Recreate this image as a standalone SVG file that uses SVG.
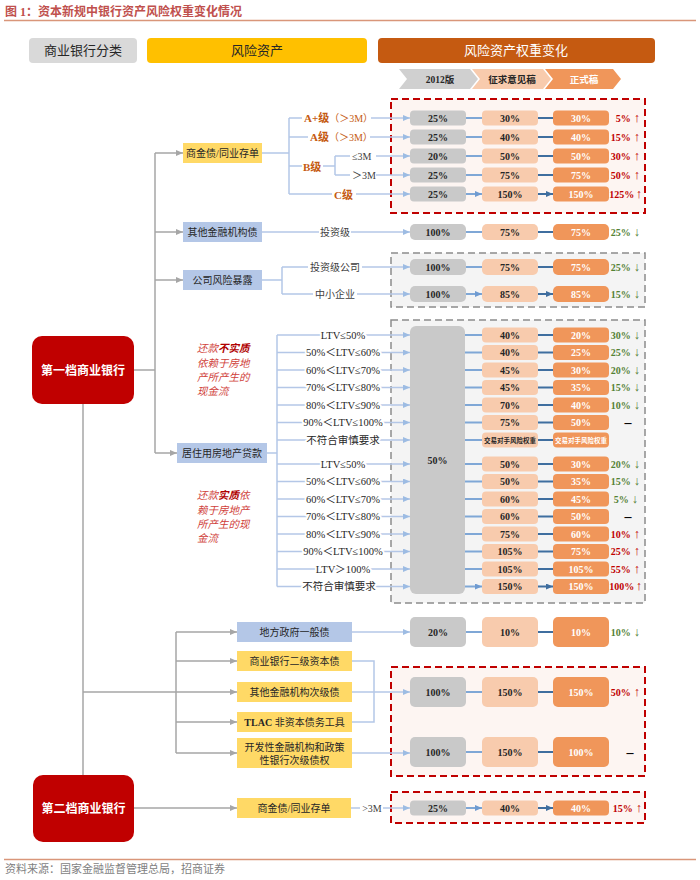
<svg xmlns="http://www.w3.org/2000/svg" width="700" height="880" viewBox="0 0 700 880">
<defs>
<style>
text{font-family:"Liberation Serif","Noto Sans CJK SC",serif}
.g{fill:#C9C9C9}
.p{fill:#F8CBAD}
.o{fill:#F0965A}
.v{font-size:10px;font-weight:bold;text-anchor:middle;fill:#262626}
.vw{font-size:10px;font-weight:bold;text-anchor:middle;fill:#fff}
.vs{font-size:6.5px;font-weight:bold;text-anchor:middle;fill:#262626}
.vsw{font-size:6.5px;font-weight:bold;text-anchor:middle;fill:#fff}
.up{font-size:10px;font-weight:bold;fill:#C00000;text-anchor:end}
.dn{font-size:10px;font-weight:bold;fill:#548235;text-anchor:end}
.ar{font-size:12.5px;font-weight:normal}
.ds{font-size:14px;font-weight:bold;fill:#000;text-anchor:middle}
.yb{fill:#FFD966}
.bb{fill:#B4C7E7}
.nl{font-size:10px;fill:#262626;text-anchor:middle}
.ol{fill:#C55A11;font-weight:bold;font-size:11px}
.gl{font-size:10px;fill:#404040}
.lt{font-size:10.5px;fill:#262626;text-anchor:middle;paint-order:stroke;stroke:#fff;stroke-width:4px;stroke-linejoin:round}
.rt{font-size:10.5px;fill:#D0413A;font-style:italic}
.rtb{font-weight:bold;fill:#B00000}
.lg{stroke:#A6A6A6;stroke-width:1.5;fill:none}
.lb{stroke:#B4C7E7;stroke-width:1.5;fill:none}
.a1{stroke:#B4C7E7;stroke-width:1.5;fill:none;marker-end:url(#mLB)}
.a2{stroke:#7FA7D6;stroke-width:1.8;fill:none;marker-end:url(#mMB)}
.a3{stroke:#3F6E9F;stroke-width:1.8;fill:none;marker-end:url(#mDB)}
.ag{stroke:#A6A6A6;stroke-width:1.5;fill:none;marker-end:url(#mG)}
.rd{fill:#FDF5F2;stroke:#C00000;stroke-width:2;stroke-dasharray:7 4}
.gd{fill:#F4F4F4;stroke:#8C8C8C;stroke-width:1.5;stroke-dasharray:7 4}
.hd{font-size:13px;text-anchor:middle}
.ch{font-size:9.5px;font-weight:bold;text-anchor:middle}
</style>
<marker id="mG" markerWidth="7" markerHeight="6" refX="7" refY="3" orient="auto" markerUnits="userSpaceOnUse"><path d="M0,0 L7,3 L0,6z" fill="#A6A6A6"/></marker>
<marker id="mLB" markerWidth="7" markerHeight="6" refX="7" refY="3" orient="auto" markerUnits="userSpaceOnUse"><path d="M0,0 L7,3 L0,6z" fill="#9DBCE3"/></marker>
<marker id="mMB" markerWidth="7" markerHeight="6" refX="7" refY="3" orient="auto" markerUnits="userSpaceOnUse"><path d="M0,0 L7,3 L0,6z" fill="#6F9BD1"/></marker>
<marker id="mDB" markerWidth="7" markerHeight="6" refX="7" refY="3" orient="auto" markerUnits="userSpaceOnUse"><path d="M0,0 L7,3 L0,6z" fill="#3F6E9F"/></marker>
</defs>
<rect width="700" height="880" fill="#fff"/>

<!-- Title -->
<g id="title">
<text x="5" y="16" font-size="12" font-weight="bold" fill="#C0504D">图 1：资本新规中银行资产风险权重变化情况</text>
<line x1="4" y1="20.5" x2="696" y2="20.5" stroke="#D9967A" stroke-width="1.5"/>
</g>

<!-- Header -->
<g id="hdr-class"><rect x="29" y="38" width="108" height="25" rx="4" fill="#D9D9D9"/><text class="hd" x="83" y="55" fill="#262626">商业银行分类</text></g>
<g id="hdr-asset"><rect x="147" y="38" width="220" height="25" rx="4" fill="#FFC000"/><text class="hd" x="257" y="55" fill="#262626">风险资产</text></g>
<g id="hdr-change"><rect x="378" y="38" width="277" height="25" rx="4" fill="#C55A11"/><text class="hd" x="516" y="55" fill="#fff">风险资产权重变化</text></g>
<g id="chev-2012"><polygon points="399,69 470,69 478,79 470,89 399,89 407,79" fill="#D0D0D0"/><text class="ch" x="440" y="82.5" fill="#262626">2012版</text></g>
<g id="chev-draft"><polygon points="472,69 543,69 551,79 543,89 472,89 480,79" fill="#F8CBAD"/><text class="ch" x="512" y="82.5" fill="#262626">征求意见稿</text></g>
<g id="chev-final"><polygon points="545,69 613,69 621,79 613,89 545,89 553,79" fill="#F0965A"/><text class="ch" x="584" y="82.5" fill="#fff">正式稿</text></g>

<!-- Dashed frames -->
<g id="frames">
<rect class="rd" x="391" y="99" width="254" height="114"/>
<rect class="gd" x="391" y="253" width="254" height="54"/>
<rect class="gd" x="391" y="320" width="254" height="283"/>
<rect class="rd" x="391" y="667" width="254" height="109"/>
<rect class="rd" x="391" y="792" width="254" height="31"/>
</g>

<!-- Connectors -->
<g id="connectors">
<path class="lg" d="M134,370 H155 M155,153 V453"/>
<path class="ag" d="M155,153 H183"/>
<path class="ag" d="M155,232 H183"/>
<path class="ag" d="M155,280 H183"/>
<path class="ag" d="M155,453 H177"/>
<path class="lg" d="M83,404 V775 M83,692 H176 M176,632 V753"/>
<path class="ag" d="M176,632 H237"/>
<path class="ag" d="M176,661 H237"/>
<path class="ag" d="M176,692 H237"/>
<path class="ag" d="M176,722 H237"/>
<path class="ag" d="M176,753 H237"/>
<path class="ag" d="M134,808 H237"/>
<path class="lb" d="M262,153 H289 M289,118 V194 M289,118 H302 M289,137 H308 M289,166 H302 M289,194 H332 M323,166 H335 M335,156 V175 M335,156 H350 M335,175 H350"/>
<path class="a1" d="M371,118 H410"/>
<path class="a1" d="M370,137 H410"/>
<path class="a1" d="M376,156 H410"/>
<path class="a1" d="M376,175 H410"/>
<path class="a1" d="M356,194 H410"/>
<path class="lb" d="M262,232 H319"/>
<path class="a1" d="M351,232 H410"/>
<path class="lb" d="M262,280 H282 M282,267 V294 M282,267 H308 M282,294 H313"/>
<path class="a1" d="M362,267 H410"/>
<path class="a1" d="M357,294 H410"/>
<path class="lb" d="M267,453 H277 M277,335 V586.5"/>
<path class="a1" d="M277,335 H410"/>
<path class="a1" d="M277,352.5 H410"/>
<path class="a1" d="M277,370 H410"/>
<path class="a1" d="M277,387.5 H410"/>
<path class="a1" d="M277,405 H410"/>
<path class="a1" d="M277,422.5 H410"/>
<path class="a1" d="M277,440 H410"/>
<path class="a1" d="M277,464 H410"/>
<path class="a1" d="M277,481.5 H410"/>
<path class="a1" d="M277,499 H410"/>
<path class="a1" d="M277,516.5 H410"/>
<path class="a1" d="M277,534 H410"/>
<path class="a1" d="M277,551.5 H410"/>
<path class="a1" d="M277,569 H410"/>
<path class="a1" d="M277,586.5 H410"/>
<path class="lb" d="M352,661 H374 V722 H352"/>
<path class="a1" d="M352,632 H410"/>
<path class="a1" d="M352,692 H410"/>
<path class="a1" d="M352,753 H410"/>
<path class="lb" d="M351,808 H360"/>
<path class="a1" d="M383,808 H410"/>
<path class="a2" d="M466,118 H482 M466,137 H482 M466,156 H482 M466,175 H482 M466,194 H482"/>
<path class="a3" d="M538,118 H553 M538,137 H553 M538,156 H553 M538,175 H553 M538,194 H553"/>
<path class="a2" d="M466,232 H482 M466,267 H482 M466,294 H482"/>
<path class="a3" d="M538,232 H553 M538,267 H553 M538,294 H553"/>
<path class="a2" d="M465,335 H482 M465,352.5 H482 M465,370 H482 M465,387.5 H482 M465,405 H482 M465,422.5 H482 M465,440 H482 M465,464 H482 M465,481.5 H482 M465,499 H482 M465,516.5 H482 M465,534 H482 M465,551.5 H482 M465,569 H482 M465,586.5 H482"/>
<path class="a3" d="M538,335 H553 M538,352.5 H553 M538,370 H553 M538,387.5 H553 M538,405 H553 M538,422.5 H553 M538,440 H553 M538,464 H553 M538,481.5 H553 M538,499 H553 M538,516.5 H553 M538,534 H553 M538,551.5 H553 M538,569 H553 M538,586.5 H553"/>
<path class="a2" d="M466,632 H482 M466,692 H482 M466,752 H482 M466,808 H482"/>
<path class="a3" d="M538,632 H553 M538,692 H553 M538,752 H553 M538,808 H553"/>
</g>

<!-- Bank tier nodes -->
<g id="tier1"><rect x="32" y="336" width="102" height="68" rx="10" fill="#C00000"/><text x="83" y="374.5" font-size="12" font-weight="bold" fill="#fff" text-anchor="middle">第一档商业银行</text></g>
<g id="tier2"><rect x="33" y="775" width="101" height="67" rx="10" fill="#C00000"/><text x="83.5" y="813" font-size="12" font-weight="bold" fill="#fff" text-anchor="middle">第二档商业银行</text></g>

<!-- Asset nodes -->
<g id="asset-ncd1"><rect class="yb" x="183" y="143" width="79" height="20"/><text class="nl" x="222.5" y="156.5" font-size="9.5">商金债/同业存单</text></g>
<g id="asset-ofi"><rect class="bb" x="183" y="222" width="79" height="20"/><text class="nl" x="222.5" y="235.5">其他金融机构债</text></g>
<g id="asset-corp"><rect class="bb" x="183" y="270" width="79" height="20"/><text class="nl" x="222.5" y="283.5">公司风险暴露</text></g>
<g id="asset-re"><rect class="bb" x="177" y="443" width="90" height="20"/><text class="nl" x="222" y="456.5">居住用房地产贷款</text></g>
<g id="asset-lgb"><rect class="bb" x="237" y="622" width="115" height="20"/><text class="nl" x="294.5" y="635.5">地方政府一般债</text></g>
<g id="asset-t2"><rect class="yb" x="237" y="651" width="115" height="20"/><text class="nl" x="294.5" y="664.5">商业银行二级资本债</text></g>
<g id="asset-sub"><rect class="yb" x="237" y="682" width="115" height="20"/><text class="nl" x="294.5" y="695.5">其他金融机构次级债</text></g>
<g id="asset-tlac"><rect class="yb" x="237" y="712" width="115" height="20"/><text class="nl" x="294.5" y="725.5"><tspan font-weight="bold">TLAC</tspan> 非资本债务工具</text></g>
<g id="asset-dev"><rect class="yb" x="237" y="738" width="115" height="30"/><text class="nl" x="294.5" y="751">开发性金融机构和政策</text><text class="nl" x="294.5" y="763.5">性银行次级债权</text></g>
<g id="asset-ncd2"><rect class="yb" x="237" y="798" width="114" height="20"/><text class="nl" x="294" y="811.5">商金债/同业存单</text></g>

<!-- Branch labels -->
<g id="labels">
<text class="ol" x="304" y="122">A+级<tspan font-size="10" font-weight="normal">（＞3M）</tspan></text>
<text class="ol" x="310" y="141">A级<tspan font-size="10" font-weight="normal">（＞3M）</tspan></text>
<text class="ol" x="303" y="170.5" font-size="12">B级</text>
<text class="gl" x="352" y="159.5">≤3M</text>
<text class="gl" x="352" y="178.5">＞3M</text>
<text class="ol" x="334" y="198.5" font-size="12">C级</text>
<text class="gl" x="335" y="235.5" text-anchor="middle">投资级</text>
<text class="gl" x="335" y="270.5" text-anchor="middle">投资级公司</text>
<text class="gl" x="335" y="297.5" text-anchor="middle">中小企业</text>
<text class="gl" x="372" y="811.5" text-anchor="middle">&gt;3M</text>
<text class="lt" x="343" y="338.5">LTV≤50%</text>
<text class="lt" x="343" y="356">50%＜LTV≤60%</text>
<text class="lt" x="343" y="373.5">60%＜LTV≤70%</text>
<text class="lt" x="343" y="391">70%＜LTV≤80%</text>
<text class="lt" x="343" y="408.5">80%＜LTV≤90%</text>
<text class="lt" x="343" y="426">90%＜LTV≤100%</text>
<text class="lt" x="343" y="443.5">不符合审慎要求</text>
<text class="lt" x="343" y="467.5">LTV≤50%</text>
<text class="lt" x="343" y="485">50%＜LTV≤60%</text>
<text class="lt" x="343" y="502.5">60%＜LTV≤70%</text>
<text class="lt" x="343" y="520">70%＜LTV≤80%</text>
<text class="lt" x="343" y="537.5">80%＜LTV≤90%</text>
<text class="lt" x="343" y="555">90%＜LTV≤100%</text>
<text class="lt" x="343" y="572.5">LTV＞100%</text>
<text class="lt" x="339" y="590">不符合审慎要求</text>
<text class="rt" x="197" y="352">还款<tspan class="rtb">不实质</tspan></text>
<text class="rt" x="197" y="367">依赖于房地</text>
<text class="rt" x="197" y="381">产所产生的</text>
<text class="rt" x="197" y="395">现金流</text>
<text class="rt" x="197" y="499">还款<tspan class="rtb">实质</tspan>依</text>
<text class="rt" x="197" y="514">赖于房地产</text>
<text class="rt" x="197" y="528">所产生的现</text>
<text class="rt" x="197" y="542">金流</text>
</g>

<!-- Top section rows -->
<g id="row-aplus"><rect class="g" x="410" y="110.5" width="56" height="15" rx="4"/><text class="v" x="438" y="121.5">25%</text><rect class="p" x="482" y="110.5" width="56" height="15" rx="4"/><text class="v" x="510" y="121.5">30%</text><rect class="o" x="553" y="110.5" width="56" height="15" rx="4"/><text class="vw" x="581" y="121.5">30%</text><text class="up" x="640" y="121.5">5%<tspan class="ar" dx="3">↑</tspan></text></g>
<g id="row-a"><rect class="g" x="410" y="129.5" width="56" height="15" rx="4"/><text class="v" x="438" y="140.5">25%</text><rect class="p" x="482" y="129.5" width="56" height="15" rx="4"/><text class="v" x="510" y="140.5">40%</text><rect class="o" x="553" y="129.5" width="56" height="15" rx="4"/><text class="vw" x="581" y="140.5">40%</text><text class="up" x="640" y="140.5">15%<tspan class="ar" dx="3">↑</tspan></text></g>
<g id="row-b1"><rect class="g" x="410" y="148.5" width="56" height="15" rx="4"/><text class="v" x="438" y="159.5">20%</text><rect class="p" x="482" y="148.5" width="56" height="15" rx="4"/><text class="v" x="510" y="159.5">50%</text><rect class="o" x="553" y="148.5" width="56" height="15" rx="4"/><text class="vw" x="581" y="159.5">50%</text><text class="up" x="640" y="159.5">30%<tspan class="ar" dx="3">↑</tspan></text></g>
<g id="row-b2"><rect class="g" x="410" y="167.5" width="56" height="15" rx="4"/><text class="v" x="438" y="178.5">25%</text><rect class="p" x="482" y="167.5" width="56" height="15" rx="4"/><text class="v" x="510" y="178.5">75%</text><rect class="o" x="553" y="167.5" width="56" height="15" rx="4"/><text class="vw" x="581" y="178.5">75%</text><text class="up" x="640" y="178.5">50%<tspan class="ar" dx="3">↑</tspan></text></g>
<g id="row-c"><rect class="g" x="410" y="186.5" width="56" height="15" rx="4"/><text class="v" x="438" y="197.5">25%</text><rect class="p" x="482" y="186.5" width="56" height="15" rx="4"/><text class="v" x="510" y="197.5">150%</text><rect class="o" x="553" y="186.5" width="56" height="15" rx="4"/><text class="vw" x="581" y="197.5">150%</text><text class="up" x="642" y="197.5" font-size="9.5">125%<tspan class="ar" dx="1.5">↑</tspan></text></g>

<g id="row-ofi"><rect class="g" x="410" y="224" width="56" height="16" rx="5"/><text class="v" x="438" y="235.5">100%</text><rect class="p" x="482" y="224" width="56" height="16" rx="5"/><text class="v" x="510" y="235.5">75%</text><rect class="o" x="553" y="224" width="56" height="16" rx="5"/><text class="vw" x="581" y="235.5">75%</text><text class="dn" x="640" y="235.5">25%<tspan class="ar" dx="3">↓</tspan></text></g>
<g id="row-corp-ig"><rect class="g" x="410" y="259" width="56" height="16" rx="5"/><text class="v" x="438" y="270.5">100%</text><rect class="p" x="482" y="259" width="56" height="16" rx="5"/><text class="v" x="510" y="270.5">75%</text><rect class="o" x="553" y="259" width="56" height="16" rx="5"/><text class="vw" x="581" y="270.5">75%</text><text class="dn" x="640" y="270.5">25%<tspan class="ar" dx="3">↓</tspan></text></g>
<g id="row-corp-sme"><rect class="g" x="410" y="286" width="56" height="16" rx="5"/><text class="v" x="438" y="297.5">100%</text><rect class="p" x="482" y="286" width="56" height="16" rx="5"/><text class="v" x="510" y="297.5">85%</text><rect class="o" x="553" y="286" width="56" height="16" rx="5"/><text class="vw" x="581" y="297.5">85%</text><text class="dn" x="640" y="297.5">15%<tspan class="ar" dx="3">↓</tspan></text></g>

<!-- LTV rows -->
<g id="ltv-2012"><rect class="g" x="410" y="326" width="55" height="268" rx="6"/><text class="v" x="437.5" y="463.5">50%</text></g>
<g id="ltv-rows">
<rect class="p" x="482" y="327.5" width="56" height="15" rx="4"/><text class="v" x="510" y="338.5">40%</text><rect class="o" x="553" y="327.5" width="56" height="15" rx="4"/><text class="vw" x="581" y="338.5">20%</text><text class="dn" x="640" y="338.5">30%<tspan class="ar" dx="3">↓</tspan></text>
<rect class="p" x="482" y="345" width="56" height="15" rx="4"/><text class="v" x="510" y="356">40%</text><rect class="o" x="553" y="345" width="56" height="15" rx="4"/><text class="vw" x="581" y="356">25%</text><text class="dn" x="640" y="356">25%<tspan class="ar" dx="3">↓</tspan></text>
<rect class="p" x="482" y="362.5" width="56" height="15" rx="4"/><text class="v" x="510" y="373.5">45%</text><rect class="o" x="553" y="362.5" width="56" height="15" rx="4"/><text class="vw" x="581" y="373.5">30%</text><text class="dn" x="640" y="373.5">20%<tspan class="ar" dx="3">↓</tspan></text>
<rect class="p" x="482" y="380" width="56" height="15" rx="4"/><text class="v" x="510" y="391">45%</text><rect class="o" x="553" y="380" width="56" height="15" rx="4"/><text class="vw" x="581" y="391">35%</text><text class="dn" x="640" y="391">15%<tspan class="ar" dx="3">↓</tspan></text>
<rect class="p" x="482" y="397.5" width="56" height="15" rx="4"/><text class="v" x="510" y="408.5">70%</text><rect class="o" x="553" y="397.5" width="56" height="15" rx="4"/><text class="vw" x="581" y="408.5">40%</text><text class="dn" x="640" y="408.5">10%<tspan class="ar" dx="3">↓</tspan></text>
<rect class="p" x="482" y="415" width="56" height="15" rx="4"/><text class="v" x="510" y="426">75%</text><rect class="o" x="553" y="415" width="56" height="15" rx="4"/><text class="vw" x="581" y="426">50%</text><text class="ds" x="628" y="427">–</text>
<rect class="p" x="482" y="432.5" width="56" height="15" rx="4"/><text class="vs" x="510" y="442.5">交易对手风险权重</text><rect class="o" x="553" y="432.5" width="56" height="15" rx="4"/><text class="vsw" x="581" y="442.5">交易对手风险权重</text>
<rect class="p" x="482" y="456.5" width="56" height="15" rx="4"/><text class="v" x="510" y="467.5">50%</text><rect class="o" x="553" y="456.5" width="56" height="15" rx="4"/><text class="vw" x="581" y="467.5">30%</text><text class="dn" x="640" y="467.5">20%<tspan class="ar" dx="3">↓</tspan></text>
<rect class="p" x="482" y="474" width="56" height="15" rx="4"/><text class="v" x="510" y="485">50%</text><rect class="o" x="553" y="474" width="56" height="15" rx="4"/><text class="vw" x="581" y="485">35%</text><text class="dn" x="640" y="485">15%<tspan class="ar" dx="3">↓</tspan></text>
<rect class="p" x="482" y="491.5" width="56" height="15" rx="4"/><text class="v" x="510" y="502.5">60%</text><rect class="o" x="553" y="491.5" width="56" height="15" rx="4"/><text class="vw" x="581" y="502.5">45%</text><text class="dn" x="638" y="502.5">5%<tspan class="ar" dx="3">↓</tspan></text>
<rect class="p" x="482" y="509" width="56" height="15" rx="4"/><text class="v" x="510" y="520">60%</text><rect class="o" x="553" y="509" width="56" height="15" rx="4"/><text class="vw" x="581" y="520">50%</text><text class="ds" x="628" y="521">–</text>
<rect class="p" x="482" y="526.5" width="56" height="15" rx="4"/><text class="v" x="510" y="537.5">75%</text><rect class="o" x="553" y="526.5" width="56" height="15" rx="4"/><text class="vw" x="581" y="537.5">60%</text><text class="up" x="640" y="537.5">10%<tspan class="ar" dx="3">↑</tspan></text>
<rect class="p" x="482" y="544" width="56" height="15" rx="4"/><text class="v" x="510" y="555">105%</text><rect class="o" x="553" y="544" width="56" height="15" rx="4"/><text class="vw" x="581" y="555">75%</text><text class="up" x="640" y="555">25%<tspan class="ar" dx="3">↑</tspan></text>
<rect class="p" x="482" y="561.5" width="56" height="15" rx="4"/><text class="v" x="510" y="572.5">105%</text><rect class="o" x="553" y="561.5" width="56" height="15" rx="4"/><text class="vw" x="581" y="572.5">105%</text><text class="up" x="640" y="572.5">55%<tspan class="ar" dx="3">↑</tspan></text>
<rect class="p" x="482" y="579" width="56" height="15" rx="4"/><text class="v" x="510" y="590">150%</text><rect class="o" x="553" y="579" width="56" height="15" rx="4"/><text class="vw" x="581" y="590">150%</text><text class="up" x="642" y="590" font-size="9.5">100%<tspan class="ar" dx="1.5">↑</tspan></text>
</g>

<!-- Bottom rows -->
<g id="row-lgb"><rect class="g" x="410" y="617" width="56" height="30" rx="5"/><text class="v" x="438" y="635.5">20%</text><rect class="p" x="482" y="617" width="56" height="30" rx="5"/><text class="v" x="510" y="635.5">10%</text><rect class="o" x="553" y="617" width="56" height="30" rx="5"/><text class="vw" x="581" y="635.5">10%</text><text class="dn" x="640" y="635.5">10%<tspan class="ar" dx="3">↓</tspan></text></g>
<g id="row-sub"><rect class="g" x="410" y="677" width="56" height="30" rx="5"/><text class="v" x="438" y="695.5">100%</text><rect class="p" x="482" y="677" width="56" height="30" rx="5"/><text class="v" x="510" y="695.5">150%</text><rect class="o" x="553" y="677" width="56" height="30" rx="5"/><text class="vw" x="581" y="695.5">150%</text><text class="up" x="640" y="695.5">50%<tspan class="ar" dx="3">↑</tspan></text></g>
<g id="row-dev"><rect class="g" x="410" y="737" width="56" height="30" rx="5"/><text class="v" x="438" y="755.5">100%</text><rect class="p" x="482" y="737" width="56" height="30" rx="5"/><text class="v" x="510" y="755.5">150%</text><rect class="o" x="553" y="737" width="56" height="30" rx="5"/><text class="vw" x="581" y="755.5">100%</text><text class="ds" x="630" y="757">–</text></g>
<g id="row-ncd2"><rect class="g" x="410" y="800.5" width="56" height="15" rx="4"/><text class="v" x="438" y="811.5">25%</text><rect class="p" x="482" y="800.5" width="56" height="15" rx="4"/><text class="v" x="510" y="811.5">40%</text><rect class="o" x="553" y="800.5" width="56" height="15" rx="4"/><text class="vw" x="581" y="811.5">40%</text><text class="up" x="642" y="811.5">15%<tspan class="ar" dx="3">↑</tspan></text></g>

<!-- Footer -->
<g id="footer">
<line x1="4" y1="859.5" x2="696" y2="859.5" stroke="#D9967A" stroke-width="1.5"/>
<text x="5" y="873" font-size="11" fill="#7F7F7F">资料来源：国家金融监督管理总局，招商证券</text>
</g>
</svg>
